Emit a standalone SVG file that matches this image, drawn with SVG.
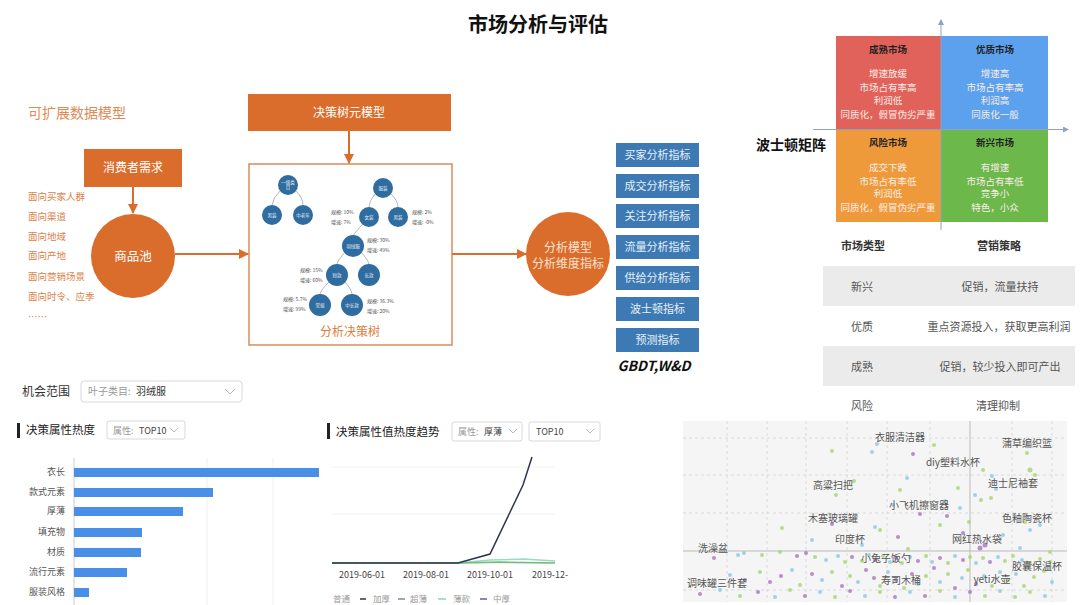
<svg xmlns="http://www.w3.org/2000/svg" width="1080" height="605" viewBox="0 0 1080 605">
<style>
text{font-family:"Noto Sans CJK SC","Noto Sans",sans-serif}
.or{fill:#DA6D2C}
.wt{fill:#FFFFFF}
.lbl{font-size:9.5px;fill:#D9834A}
.bb{fill:#3D7AB4}
.bt{font-size:11px;fill:#E6EEF7;text-anchor:middle}
.tn{fill:#2F6C9F}
.tt{font-size:4.5px;fill:#E8F0F8;text-anchor:middle}
.tk{font-size:5px;fill:#555}
.arc{fill:none;stroke:#9AA4AE;stroke-width:0.8}
.qt{font-size:9.5px;font-weight:bold;fill:#222;text-anchor:middle}
.qb{font-size:9.5px;fill:#FBEDE8;text-anchor:middle}
.th{font-size:11px;font-weight:bold;fill:#333;text-anchor:middle}
.td{font-size:11px;fill:#555;text-anchor:middle}
.bar{fill:#4A8FE7}
.bl{font-size:9px;fill:#555;text-anchor:end}
.dd{fill:#fff;stroke:#D8D8D8;stroke-width:1}
.sc{font-size:10px;fill:#555;text-anchor:middle}
.g{fill:#A6D56E;opacity:0.8}
.p{fill:#A874C0;opacity:0.8}
.b{fill:#8CC8E2;opacity:0.8}
.grid{stroke:#D4D4D4;stroke-width:0.8;stroke-dasharray:3,3}
</style>
<defs>
<marker id="ao" markerWidth="10" markerHeight="10" refX="9" refY="5" orient="auto" markerUnits="userSpaceOnUse"><path d="M0,0 L10,5 L0,10 z" fill="#DA6D2C"/></marker>
<marker id="ag" markerWidth="6" markerHeight="6" refX="5" refY="3" orient="auto" markerUnits="userSpaceOnUse"><path d="M0,0 L6,3 L0,6 z" fill="#8FA3C0"/></marker>
</defs>

<text x="538" y="32" font-size="20" font-weight="bold" fill="#111" text-anchor="middle">市场分析与评估</text>

<!-- left model -->
<text x="28" y="118" font-size="14" fill="#E08A55">可扩展数据模型</text>
<g id="consumer"><rect x="84" y="149" width="98" height="38" class="or"/><text x="133" y="172" font-size="12" class="wt" text-anchor="middle">消费者需求</text></g>
<g id="pool"><circle cx="133" cy="256" r="42" class="or"/><text x="133" y="261" font-size="12.5" class="wt" text-anchor="middle">商品池</text></g>
<g id="dims">
<text x="28" y="200" class="lbl">面向买家人群</text>
<text x="28" y="220" class="lbl">面向渠道</text>
<text x="28" y="240" class="lbl">面向地域</text>
<text x="28" y="259" class="lbl">面向产地</text>
<text x="28" y="280" class="lbl">面向营销场景</text>
<text x="28" y="300" class="lbl">面向时令、应季</text>
<text x="28" y="320" class="lbl">……</text>
</g>

<!-- decision tree -->
<g id="dtmeta"><rect x="248" y="94" width="203" height="37" class="or"/><text x="349" y="117" font-size="12" class="wt" text-anchor="middle">决策树元模型</text></g>
<g id="dtree">
<rect x="249" y="164" width="203" height="181" fill="#fff" stroke="#DA8A5C" stroke-width="1.5"/>
<path class="arc" d="M280,191 Q273,198 272,205 M296,191 Q303,198 303,205 M375,194 Q369,201 369,207 M391,194 Q398,201 398,207 M363,224 Q355,232 353,236 M345,252 Q338,260 337,264 M361,252 Q368,260 369,264 M329,282 Q321,290 320,294 M345,282 Q352,290 352,294"/>
<circle cx="288" cy="185" r="10" class="tn"/><text x="288" y="184" class="tt">一级类</text><text x="288" y="189" class="tt">目</text>
<circle cx="272" cy="215" r="10" class="tn"/><text x="272" y="217" class="tt">男装</text>
<circle cx="303" cy="215" r="10" class="tn"/><text x="303" y="217" class="tt">中老年</text>
<circle cx="383" cy="188" r="10" class="tn"/><text x="383" y="190" class="tt">服装</text>
<circle cx="369" cy="217" r="10" class="tn"/><text x="369" y="219" class="tt">女装</text>
<circle cx="398" cy="217" r="10" class="tn"/><text x="398" y="219" class="tt">男装</text>
<circle cx="353" cy="246" r="11" class="tn"/><text x="353" y="248" class="tt">羽绒服</text>
<circle cx="337" cy="275" r="11" class="tn"/><text x="337" y="277" class="tt">短款</text>
<circle cx="369" cy="275" r="11" class="tn"/><text x="369" y="277" class="tt">长款</text>
<circle cx="320" cy="305" r="11" class="tn"/><text x="320" y="307" class="tt">常规</text>
<circle cx="352" cy="305" r="11" class="tn"/><text x="352" y="307" class="tt">中长款</text>
<text x="331" y="214" class="tk">规模: 10%</text><text x="331" y="224" class="tk">增速: 7%</text>
<text x="412" y="214" class="tk">规模: 2%</text><text x="412" y="224" class="tk">增速: -0%</text>
<text x="367" y="242" class="tk">规模: 30%</text><text x="367" y="252" class="tk">增速: 49%</text>
<text x="300" y="272" class="tk">规模: 15%</text><text x="300" y="282" class="tk">增速: 60%</text>
<text x="283" y="301" class="tk">规模: 5.7%</text><text x="283" y="311" class="tk">增速: 99%</text>
<text x="367" y="303" class="tk">规模: 36.3%</text><text x="367" y="313" class="tk">增速: 20%</text>
<text x="350" y="336" font-size="12" fill="#E07B39" text-anchor="middle">分析决策树</text>
</g>

<g id="model"><circle cx="568" cy="254" r="42" class="or"/><text x="568" y="252" font-size="12" fill="#FCE2D0" text-anchor="middle">分析模型</text><text x="568" y="268" font-size="12" fill="#FCE2D0" text-anchor="middle">分析维度指标</text></g>

<g id="metrics">
<rect x="616" y="143" width="83" height="24" class="bb"/><text x="657.5" y="159" class="bt">买家分析指标</text>
<rect x="616" y="174" width="83" height="24" class="bb"/><text x="657.5" y="190" class="bt">成交分析指标</text>
<rect x="616" y="204" width="83" height="24" class="bb"/><text x="657.5" y="220" class="bt">关注分析指标</text>
<rect x="616" y="235" width="83" height="24" class="bb"/><text x="657.5" y="251" class="bt">流量分析指标</text>
<rect x="616" y="266" width="83" height="24" class="bb"/><text x="657.5" y="282" class="bt">供给分析指标</text>
<rect x="616" y="297" width="83" height="24" class="bb"/><text x="657.5" y="313" class="bt">波士顿指标</text>
<rect x="616" y="328" width="83" height="24" class="bb"/><text x="657.5" y="344" class="bt">预测指标</text>
<text x="654" y="371" font-size="14" font-weight="bold" font-style="italic" fill="#111" text-anchor="middle" font-family="Liberation Sans,sans-serif">GBDT,W&amp;D</text>
</g>

<g id="connectors" stroke="#DA6D2C" stroke-width="2" fill="none">
<line x1="133" y1="187" x2="133" y2="213" marker-end="url(#ao)"/>
<line x1="175" y1="254" x2="248" y2="254" marker-end="url(#ao)"/>
<line x1="349" y1="131" x2="349" y2="163" marker-end="url(#ao)"/>
<line x1="452" y1="254" x2="526" y2="254" marker-end="url(#ao)"/>
</g>

<!-- Boston matrix -->
<g id="boston">
<rect x="836" y="36" width="105" height="94" fill="#E0625A"/>
<rect x="941" y="36" width="107" height="94" fill="#5CA1EE"/>
<rect x="836" y="130" width="105" height="92" fill="#EE9A3A"/>
<rect x="941" y="130" width="107" height="92" fill="#6CB84B"/>
<line x1="941" y1="230" x2="941" y2="20" stroke="#8FA3C0" stroke-width="1" marker-end="url(#ag)"/>
<line x1="813" y1="129.5" x2="1068" y2="129.5" stroke="#8FA3C0" stroke-width="1" marker-end="url(#ag)"/>
<text x="888" y="53" class="qt">成熟市场</text>
<text x="888" y="77" class="qb">增速放缓</text><text x="888" y="91" class="qb">市场占有率高</text><text x="888" y="104" class="qb">利润低</text><text x="888" y="118" class="qb">同质化，假冒伪劣严重</text>
<text x="995" y="53" class="qt">优质市场</text>
<text x="995" y="77" class="qb">增速高</text><text x="995" y="91" class="qb">市场占有率高</text><text x="995" y="104" class="qb">利润高</text><text x="995" y="118" class="qb">同质化一般</text>
<text x="888" y="146" class="qt">风险市场</text>
<text x="888" y="171" class="qb">成交下跌</text><text x="888" y="185" class="qb">市场占有率低</text><text x="888" y="197" class="qb">利润低</text><text x="888" y="211" class="qb">同质化，假冒伪劣严重</text>
<text x="995" y="146" class="qt">新兴市场</text>
<text x="995" y="171" class="qb">有增速</text><text x="995" y="185" class="qb">市场占有率低</text><text x="995" y="197" class="qb">竞争小</text><text x="995" y="211" class="qb">特色，小众</text>
<text x="791" y="150" font-size="14" font-weight="bold" fill="#111" text-anchor="middle">波士顿矩阵</text>
</g>

<!-- table -->
<g id="strategy">
<text x="863" y="250" class="th">市场类型</text><text x="999" y="250" class="th">营销策略</text>
<rect x="823" y="266" width="252" height="40" fill="#EBEBEB"/>
<rect x="823" y="346" width="252" height="40" fill="#EBEBEB"/>
<text x="862" y="291" class="td">新兴</text><text x="1000" y="291" class="td">促销，流量扶持</text>
<text x="862" y="331" class="td">优质</text><text x="999" y="331" class="td">重点资源投入，获取更高利润</text>
<text x="862" y="371" class="td">成熟</text><text x="1000" y="371" class="td">促销，较少投入即可产出</text>
<text x="862" y="410" class="td">风险</text><text x="998" y="410" class="td">清理抑制</text>
</g>

<!-- bar chart -->
<g id="barchart">
<text x="22" y="396" font-size="12" fill="#333">机会范围</text>
<rect x="81" y="381" width="161" height="21" rx="3" class="dd"/>
<text x="88" y="395" font-size="10" fill="#999">叶子类目:</text><text x="136" y="395" font-size="10" fill="#333">羽绒服</text>
<path d="M225,389 L230,394 L235,389" fill="none" stroke="#BBB" stroke-width="1"/>
<rect x="17" y="423" width="3" height="15" fill="#222"/>
<text x="26" y="434" font-size="11.5" fill="#222">决策属性热度</text>
<rect x="107" y="421" width="78" height="18" rx="2" class="dd"/>
<text x="113" y="434" font-size="9" fill="#999">属性:</text><text x="139" y="434" font-size="9" fill="#444">TOP10</text>
<path d="M170,428 L174,432 L178,428" fill="none" stroke="#BBB" stroke-width="1"/>
<line x1="207" y1="458" x2="207" y2="605" stroke="#F0F0F0"/>
<line x1="273" y1="458" x2="273" y2="605" stroke="#F0F0F0"/>
<line x1="74" y1="458" x2="74" y2="605" stroke="#CCC"/>
<rect x="74" y="468" width="245" height="9" class="bar"/><text x="65" y="475" class="bl">衣长</text>
<rect x="74" y="488" width="139" height="9" class="bar"/><text x="65" y="495" class="bl">款式元素</text>
<rect x="74" y="507" width="109" height="9" class="bar"/><text x="65" y="514" class="bl">厚薄</text>
<rect x="74" y="528" width="68" height="9" class="bar"/><text x="65" y="535" class="bl">填充物</text>
<rect x="74" y="548" width="67" height="9" class="bar"/><text x="65" y="555" class="bl">材质</text>
<rect x="74" y="568" width="53" height="9" class="bar"/><text x="65" y="575" class="bl">流行元素</text>
<rect x="74" y="588" width="15" height="9" class="bar"/><text x="65" y="595" class="bl">服装风格</text>
</g>

<!-- trend chart -->
<g id="trend">
<rect x="327" y="423" width="3" height="16" fill="#222"/>
<text x="336" y="436" font-size="11.5" fill="#222">决策属性值热度趋势</text>
<rect x="452" y="422" width="70" height="19" rx="2" class="dd"/>
<text x="458" y="435" font-size="9" fill="#999">属性:</text><text x="484" y="435" font-size="9" fill="#444">厚薄</text>
<path d="M509,429 L513,433 L517,429" fill="none" stroke="#BBB" stroke-width="1"/>
<rect x="529" y="422" width="71" height="19" rx="2" class="dd"/>
<text x="536" y="435" font-size="9" fill="#444">TOP10</text>
<path d="M586,429 L590,433 L594,429" fill="none" stroke="#BBB" stroke-width="1"/>
<line x1="332" y1="467" x2="555" y2="467" stroke="#F2F2F2"/>
<line x1="332" y1="514" x2="555" y2="514" stroke="#F2F2F2"/>
<line x1="332" y1="563" x2="555" y2="563" stroke="#DDD"/>
<polyline points="332,563 458,563 490,560 523,559 555,561" fill="none" stroke="#9FD8C6" stroke-width="1.5"/>
<polyline points="332,563 458,563 500,562 555,563" fill="none" stroke="#6CC07A" stroke-width="1.5"/>
<polyline points="332,563 458,563 490,554 523,485 532,457" fill="none" stroke="#2E3552" stroke-width="1.5"/>
<text x="362" y="578" font-size="9" fill="#444" text-anchor="middle">2019-06-01</text>
<text x="426" y="578" font-size="9" fill="#444" text-anchor="middle">2019-08-01</text>
<text x="490" y="578" font-size="9" fill="#444" text-anchor="middle">2019-10-01</text>
<text x="550" y="578" font-size="9" fill="#444" text-anchor="middle">2019-12-</text>
<text x="333" y="602" font-size="8.5" fill="#999">普通</text>
<line x1="360" y1="599" x2="366" y2="599" stroke="#2E3552" stroke-width="1.5"/><text x="373" y="602" font-size="8.5" fill="#999">加厚</text>
<line x1="398" y1="599" x2="405" y2="599" stroke="#7E86A8" stroke-width="1.5"/><text x="410" y="602" font-size="8.5" fill="#999">超薄</text>
<line x1="438" y1="599" x2="446" y2="599" stroke="#8ED1C0" stroke-width="1.5"/><text x="453" y="602" font-size="8.5" fill="#999">薄款</text>
<line x1="480" y1="599" x2="487" y2="599" stroke="#5A5FB0" stroke-width="1.5"/><text x="493" y="602" font-size="8.5" fill="#999">中厚</text>
</g>

<!-- scatter -->
<g id="scatter">
<rect x="683" y="421" width="384" height="181" fill="#F5F5F5"/>
<g class="grid">
<line x1="727" y1="421" x2="727" y2="602"/><line x1="767" y1="421" x2="767" y2="602"/><line x1="806" y1="421" x2="806" y2="602"/><line x1="847" y1="421" x2="847" y2="602"/><line x1="887" y1="421" x2="887" y2="602"/><line x1="930" y1="421" x2="930" y2="602"/><line x1="1012" y1="421" x2="1012" y2="602"/><line x1="1052" y1="421" x2="1052" y2="602"/>
<line x1="683" y1="438" x2="1067" y2="438"/><line x1="683" y1="475" x2="1067" y2="475"/><line x1="683" y1="513" x2="1067" y2="513"/><line x1="683" y1="590" x2="1067" y2="590"/>
</g>
<line x1="970" y1="421" x2="970" y2="602" stroke="#BBB" stroke-width="1"/>
<line x1="683" y1="551" x2="1067" y2="551" stroke="#BBB" stroke-width="1"/>
<g>
<circle cx="832" cy="451" r="2" class="g"/><circle cx="877" cy="444" r="2" class="b"/><circle cx="872" cy="452" r="2" class="b"/><circle cx="913" cy="454" r="2" class="p"/><circle cx="934" cy="445" r="2" class="g"/><circle cx="1027" cy="453" r="2" class="g"/><circle cx="1030" cy="470" r="2.5" class="g"/><circle cx="1035" cy="475" r="2" class="g"/><circle cx="992" cy="476" r="2" class="b"/><circle cx="983" cy="470" r="2" class="g"/><circle cx="907" cy="478" r="2" class="b"/><circle cx="900" cy="490" r="2" class="g"/><circle cx="958" cy="488" r="2" class="g"/><circle cx="996" cy="489" r="2" class="b"/><circle cx="981" cy="500" r="2" class="g"/><circle cx="975" cy="495" r="2" class="b"/><circle cx="991" cy="498" r="2" class="g"/><circle cx="836" cy="495" r="2" class="g"/><circle cx="854" cy="481" r="2" class="g"/><circle cx="893" cy="505" r="2" class="b"/><circle cx="945" cy="501" r="2" class="b"/><circle cx="960" cy="508" r="2" class="b"/><circle cx="920" cy="514" r="2" class="p"/><circle cx="947" cy="516" r="2" class="p"/><circle cx="969" cy="522" r="2" class="g"/><circle cx="1030" cy="530" r="2" class="b"/><circle cx="1040" cy="525" r="2" class="b"/><circle cx="1025" cy="522" r="2" class="g"/><circle cx="782" cy="528" r="2" class="g"/><circle cx="832" cy="524" r="2" class="p"/><circle cx="875" cy="527" r="2" class="b"/><circle cx="880" cy="530" r="2" class="g"/><circle cx="940" cy="525" r="2" class="g"/><circle cx="898" cy="537" r="2" class="p"/><circle cx="963" cy="533" r="2" class="p"/><circle cx="1003" cy="535" r="2" class="b"/><circle cx="812" cy="540" r="2" class="b"/><circle cx="862" cy="545" r="2" class="b"/><circle cx="908" cy="549" r="2" class="g"/><circle cx="980" cy="548" r="2.5" class="p"/><circle cx="985" cy="545" r="2.5" class="p"/><circle cx="1020" cy="548" r="2" class="b"/><circle cx="1050" cy="552" r="2" class="g"/>
<circle cx="714" cy="558" r="2" class="p"/><circle cx="738" cy="555" r="2" class="b"/><circle cx="744" cy="553" r="2" class="b"/><circle cx="762" cy="555" r="2" class="g"/><circle cx="780" cy="552" r="2" class="g"/><circle cx="797" cy="556" r="2" class="p"/><circle cx="806" cy="553" r="2" class="p"/><circle cx="815" cy="557" r="2" class="g"/><circle cx="826" cy="560" r="2" class="b"/><circle cx="838" cy="556" r="2" class="b"/><circle cx="845" cy="562" r="2" class="g"/><circle cx="852" cy="557" r="2" class="p"/><circle cx="862" cy="561" r="2" class="g"/><circle cx="869" cy="555" r="2" class="b"/><circle cx="875" cy="560" r="2" class="p"/><circle cx="883" cy="556" r="2" class="g"/><circle cx="890" cy="562" r="2" class="b"/><circle cx="896" cy="558" r="2" class="p"/><circle cx="902" cy="563" r="2" class="g"/><circle cx="910" cy="557" r="2" class="b"/><circle cx="918" cy="561" r="2" class="p"/><circle cx="926" cy="556" r="2" class="g"/><circle cx="932" cy="562" r="2" class="b"/><circle cx="940" cy="558" r="2" class="p"/><circle cx="948" cy="563" r="2" class="g"/><circle cx="955" cy="556" r="2" class="b"/><circle cx="963" cy="560" r="2" class="p"/><circle cx="970" cy="557" r="2" class="g"/><circle cx="976" cy="563" r="2" class="b"/><circle cx="983" cy="558" r="2" class="g"/><circle cx="990" cy="562" r="2" class="p"/><circle cx="998" cy="557" r="2" class="b"/><circle cx="1005" cy="561" r="2" class="g"/><circle cx="1013" cy="556" r="2" class="g"/><circle cx="1022" cy="560" r="2" class="b"/><circle cx="1030" cy="563" r="2" class="g"/><circle cx="1040" cy="559" r="2" class="g"/><circle cx="1050" cy="562" r="2" class="g"/>
<circle cx="730" cy="575" r="2" class="b"/><circle cx="745" cy="580" r="2" class="p"/><circle cx="760" cy="572" r="2" class="g"/><circle cx="770" cy="582" r="2" class="p"/><circle cx="781" cy="576" r="2" class="p"/><circle cx="792" cy="570" r="2" class="b"/><circle cx="800" cy="585" r="2" class="g"/><circle cx="812" cy="574" r="2" class="p"/><circle cx="822" cy="580" r="2" class="b"/><circle cx="832" cy="572" r="2" class="g"/><circle cx="842" cy="586" r="2" class="p"/><circle cx="850" cy="576" r="2" class="g"/><circle cx="858" cy="582" r="2" class="b"/><circle cx="866" cy="570" r="2" class="p"/><circle cx="874" cy="578" r="2" class="p"/><circle cx="880" cy="586" r="2" class="g"/><circle cx="888" cy="572" r="2" class="b"/><circle cx="896" cy="580" r="2" class="p"/><circle cx="904" cy="588" r="2" class="g"/><circle cx="912" cy="574" r="2" class="p"/><circle cx="918" cy="584" r="2" class="b"/><circle cx="926" cy="576" r="2" class="g"/><circle cx="934" cy="568" r="2" class="p"/><circle cx="940" cy="582" r="2" class="b"/><circle cx="948" cy="574" r="2" class="g"/><circle cx="955" cy="588" r="2" class="p"/><circle cx="962" cy="578" r="2" class="b"/><circle cx="968" cy="570" r="2" class="g"/><circle cx="976" cy="584" r="2" class="p"/><circle cx="984" cy="576" r="2" class="b"/><circle cx="992" cy="586" r="2" class="g"/><circle cx="1000" cy="572" r="2" class="b"/><circle cx="1008" cy="580" r="2" class="g"/><circle cx="1016" cy="574" r="2" class="b"/><circle cx="1024" cy="586" r="2" class="g"/><circle cx="1034" cy="577" r="2" class="g"/><circle cx="1044" cy="571" r="2" class="g"/><circle cx="1052" cy="582" r="2" class="b"/>
<circle cx="700" cy="594" r="2" class="p"/><circle cx="720" cy="590" r="2" class="b"/><circle cx="740" cy="596" r="2" class="g"/><circle cx="758" cy="592" r="2" class="p"/><circle cx="775" cy="597" r="2" class="b"/><circle cx="790" cy="590" r="2" class="g"/><circle cx="805" cy="596" r="2" class="p"/><circle cx="820" cy="592" r="2" class="b"/><circle cx="835" cy="597" r="2" class="g"/><circle cx="850" cy="591" r="2" class="p"/><circle cx="865" cy="596" r="2" class="b"/><circle cx="880" cy="592" r="2" class="g"/><circle cx="895" cy="597" r="2" class="p"/><circle cx="910" cy="592" r="2" class="b"/><circle cx="925" cy="596" r="2" class="p"/><circle cx="940" cy="591" r="2" class="g"/><circle cx="955" cy="597" r="2" class="b"/><circle cx="970" cy="592" r="2" class="p"/><circle cx="985" cy="596" r="2" class="g"/><circle cx="1000" cy="591" r="2" class="b"/><circle cx="1015" cy="597" r="2" class="g"/><circle cx="1030" cy="592" r="2" class="g"/><circle cx="1045" cy="596" r="2" class="b"/>
</g>
<text x="900" y="441" class="sc">衣服清洁器</text>
<text x="1027" y="447" class="sc">蒲草编织篮</text>
<text x="953" y="466" class="sc">diy塑料水杯</text>
<text x="833" y="489" class="sc">高粱扫把</text>
<text x="1013" y="487" class="sc">迪士尼袖套</text>
<text x="919" y="509" class="sc">小飞机擦窗器</text>
<text x="833" y="522" class="sc">木塞玻璃罐</text>
<text x="1027" y="522" class="sc">色釉陶瓷杯</text>
<text x="850" y="543" class="sc">印度杯</text>
<text x="977" y="543" class="sc">网红热水袋</text>
<text x="713" y="552" class="sc">洗澡盆</text>
<text x="886" y="562" class="sc">小兔子饭勺</text>
<text x="1037" y="570" class="sc">胶囊保温杯</text>
<text x="717" y="587" class="sc">调味罐三件套</text>
<text x="901" y="584" class="sc">寿司木桶</text>
<text x="992" y="583" class="sc">yeti水壶</text>
</g>
</svg>
